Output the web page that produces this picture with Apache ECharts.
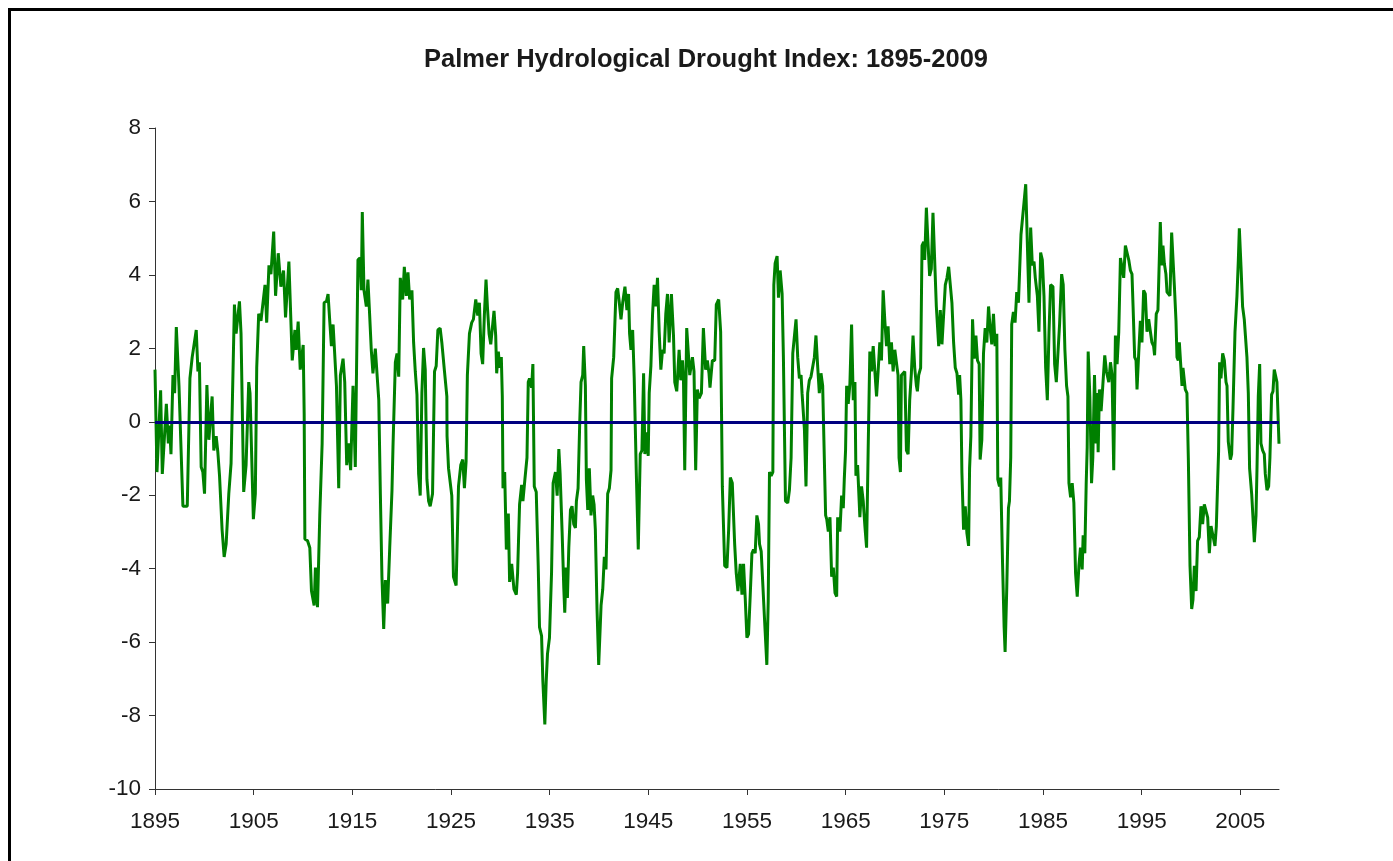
<!DOCTYPE html>
<html>
<head>
<meta charset="utf-8">
<script src="https://cdn.jsdelivr.net/npm/echarts@6/dist/echarts.min.js"></script>
<style>
  html, body { margin: 0; padding: 0; background: #ffffff; }
  #frame { position: absolute; left: 8px; top: 8px; width: 1500px; height: 1000px;
           border-left: 3px solid #000; border-top: 3px solid #000; box-sizing: border-box; }
  #chart { position: absolute; left: 0; top: 0; width: 1393px; height: 861px; }
</style>
</head>
<body>
<div id="frame"></div>
<div id="chart"></div>
<script>
// ---- Data (decimal year, PHDI value) ----
const years = [
  1895.0,1895.2,1895.57,1895.74,1896.15,1896.35,1896.48,1896.62,1896.82,1896.99,
  1897.16,1897.43,1897.6,1897.83,1898.0,1898.27,1898.54,1898.77,1899.18,1899.35,
  1899.5,1899.68,1899.85,1900.02,1900.26,1900.46,1900.79,1900.96,1901.2,1901.37,
  1901.54,1901.8,1902.01,1902.21,1902.48,1902.71,1903.05,1903.22,1903.56,1903.72,
  1903.99,1904.23,1904.5,1904.63,1904.97,1905.17,1905.31,1905.51,1905.74,
  1906.15,1906.32,1906.55,1906.75,1907.03,1907.22,1907.49,1907.76,1908.03,1908.23,
  1908.57,1908.91,1909.18,1909.31,1909.51,1909.72,1910.02,1910.12,1910.19,1910.46,
  1910.69,1910.86,1911.13,1911.26,1911.47,1911.7,1911.94,1912.14,1912.38,1912.54,
  1912.71,1912.88,1913.05,1913.39,1913.62,1913.79,1914.06,1914.23,1914.43,1914.63,
  1914.83,1915.07,1915.3,1915.57,1915.78,1915.91,1916.01,1916.18,1916.42,1916.58,
  1916.75,1916.92,1917.09,1917.33,
  1917.68,1917.84,1918.0,1918.18,1918.35,1918.58,1918.79,1919.02,1919.12,1919.26,
  1919.36,1919.53,1919.7,1919.86,1920.1,1920.27,1920.47,1920.64,1920.81,1921.04,
  1921.21,1921.38,1921.55,1921.72,1921.88,1922.05,1922.22,1922.39,1922.56,1922.73,
  1922.89,1923.13,1923.33,1923.5,1923.67,1923.9,1924.07,1924.34,1924.58,1924.6,
  1924.75,1925.08,1925.25,1925.52,1925.76,1925.99,1926.19,1926.36,1926.53,1926.66,
  1926.87,1927.1,1927.27,1927.51,1927.71,1927.88,1928.05,1928.21,1928.38,1928.55,
  1928.69,1928.86,1929.03,1929.19,1929.36,1929.53,1929.63,1929.8,1929.93,1930.1,
  1930.2,1930.27,1930.44,1930.61,1930.81,1930.94,1931.15,1931.38,1931.62,1931.75,
  1931.95,1932.16,1932.29,1932.49,1932.7,1932.83,1932.96,1933.17,1933.3,1933.44,
  1933.64,1933.84,1933.97,1934.18,1934.31,1934.51,1934.65,1934.78,1934.98,1935.19,
  1935.35,1935.59,1935.76,1935.93,1936.06,1936.26,1936.43,1936.53,1936.67,1936.8,
  1936.94,1937.11,1937.27,1937.44,1937.61,1937.71,1937.88,1938.05,1938.18,1938.35,
  1938.45,1938.62,1938.72,1938.86,1939.02,1939.19,1939.36,1939.5,1939.63,1939.8,
  1939.97,
  1940.21,1940.38,1940.54,1940.71,1940.88,1941.05,1941.22,1941.28,1941.49,1941.72,
  1941.89,1942.06,1942.23,1942.4,1942.63,1942.83,1943.0,1943.1,1943.24,1943.41,
  1943.57,1943.78,1943.98,1944.18,1944.35,1944.52,1944.65,1944.85,1944.99,1945.09,
  1945.26,1945.43,1945.59,1945.76,1945.93,1946.1,1946.27,1946.44,1946.6,1946.77,
  1946.94,1947.11,1947.34,1947.55,1947.68,1947.88,1948.12,1948.29,1948.46,1948.56,
  1948.69,1948.89,1949.03,1949.2,1949.47,1949.63,1949.8,1949.97,1950.14,1950.38,
  1950.58,1950.81,1950.98,1951.15,1951.25,
  1951.49,1951.73,1951.89,1952.13,1952.33,1952.5,1952.63,1952.74,1952.97,1953.14,
  1953.31,1953.51,1953.75,1953.91,1954.08,1954.32,1954.49,1954.65,1954.82,1954.99,
  1955.16,1955.33,1955.5,1955.66,1955.83,1956.0,1956.17,1956.27,1956.44,1956.61,
  1956.78,1957.01,1957.15,1957.28,1957.45,1957.62,1957.72,1957.85,1958.05,1958.19,
  1958.36,1958.56,1958.69,1958.9,1959.13,1959.3,1959.47,1959.64,1959.81,1959.97,
  1960.14,1960.31,1960.48,1960.58,1960.72,1960.82,1960.98,1961.15,1961.32,1961.49,
  1961.66,1961.83,1961.99,1962.16,1962.33,1962.5,1962.67,
  1962.84,1962.97,1963.08,1963.24,1963.41,1963.58,1963.75,1963.92,1964.09,1964.19,
  1964.42,1964.59,1964.76,1964.86,1964.99,1965.1,1965.26,1965.43,1965.6,1965.77,
  1965.94,1966.04,1966.21,1966.44,1966.61,1966.78,1966.95,1967.12,1967.28,1967.45,
  1967.62,1967.79,1967.96,1968.13,1968.29,1968.46,1968.63,1968.8,1968.97,1969.14,
  1969.3,1969.47,1969.64,1969.81,1969.98,1970.15,1970.31,1970.41,1970.55,1970.65,
  1970.82,1970.99,1971.16,1971.33,1971.49,1971.66,1971.83,1972.0,1972.17,1972.27,
  1972.4,1972.6,1972.74,1972.91,1973.01,1973.18,1973.34,1973.51,1973.68,1973.85,
  1974.02,1974.19,
  1974.43,1974.59,1974.76,1974.93,1975.1,1975.27,1975.44,1975.6,1975.77,1975.94,
  1976.11,1976.28,1976.45,1976.55,1976.68,1976.78,1976.95,1977.12,1977.29,1977.46,
  1977.56,1977.69,1977.86,1978.03,1978.2,1978.36,1978.53,1978.63,1978.8,1978.97,
  1979.14,1979.31,1979.48,1979.64,1979.81,1979.98,1980.15,1980.32,1980.42,1980.59,
  1980.72,1980.89,1981.06,1981.16,1981.33,1981.5,1981.6,1981.73,1981.83,1982.0,
  1982.17,1982.34,1982.51,1982.67,1982.77,1982.94,1983.08,1983.25,1983.41,1983.58,
  1983.75,1983.92,1984.09,1984.22,1984.43,1984.59,1984.76,1984.93,1985.1,1985.27,
  1985.44,
  1985.61,1985.77,1986.01,1986.18,1986.35,1986.52,1986.68,1986.89,1987.05,1987.22,
  1987.39,1987.53,1987.63,1987.8,1987.96,1988.13,1988.3,1988.47,1988.64,1988.8,
  1988.97,1989.07,1989.24,1989.38,1989.48,1989.58,1989.75,1989.92,1990.05,1990.22,
  1990.39,1990.49,1990.59,1990.72,1990.89,1991.06,1991.26,1991.43,1991.67,1991.84,
  1992.0,1992.17,1992.34,1992.51,1992.68,1992.85,1993.01,1993.18,1993.35,1993.52,
  1993.69,1993.86,1994.02,1994.13,1994.29,1994.43,1994.53,1994.7,1994.87,1995.03,
  1995.2,1995.37,1995.54,1995.71,1995.88,1996.04,1996.21,1996.31,1996.48,1996.65,
  1996.89,1997.03,1997.16,1997.3,1997.46,1997.57,1997.73,1997.87,1998.04,1998.17,
  1998.31,1998.48,1998.58,1998.71,1998.82,1998.98,1999.09,1999.19,1999.32,1999.42,
  1999.59,1999.73,1999.9,2000.07,2000.2,2000.34,2000.51,2000.67,2000.84,2001.01,
  2001.18,2001.35,2001.52,2001.69,2001.86,2002.03,2002.19,2002.43,2002.57,2002.7,
  2002.8,2002.9,2003.04,2003.21,2003.38,2003.55,2003.65,2003.78,2003.99,2004.12,
  2004.26,2004.46,2004.66,2004.8,2004.9,2005.07,2005.23,2005.4,2005.57,2005.67,
  2005.81,2005.94,2006.15,2006.42,2006.59,2006.69,2006.82,2006.96,2007.09,2007.26,
  2007.43,2007.53,2007.7,2007.87,2008.0,2008.17,2008.31,2008.44,2008.61,2008.71,
  2008.92
];
const pdhi = [
  1.42,-1.37,0.86,-1.42,0.49,-0.59,-0.1,-0.88,1.27,0.78,
  2.58,0.98,0.93,-2.3,-2.35,-2.3,1.18,1.76,2.5,1.37,
  1.62,-1.23,-1.37,-1.96,1.0,-0.49,0.69,-0.78,-0.39,-0.83,
  -1.47,-2.94,-3.68,-3.33,-1.96,-1.13,3.19,2.4,3.28,2.4,
  -1.91,-1.18,1.08,0.78,-2.65,-1.96,1.47,2.94,2.75,
  3.73,2.7,4.26,4.02,5.18,3.43,4.59,3.68,4.12,2.84,
  4.36,1.67,2.5,1.96,2.73,1.42,2.09,0.2,-3.19,-3.24,
  -3.43,-4.61,-5.0,-3.97,-5.05,-2.55,-0.59,3.24,3.28,3.48,
  2.75,2.06,2.65,0.98,-1.81,1.27,1.72,1.08,-1.18,-0.59,
  -1.32,0.98,-1.23,4.41,4.46,3.58,5.71,3.58,3.14,3.87,
  2.94,1.96,1.32,1.99,
  0.59,-1.96,-4.22,-5.64,-4.31,-4.95,-3.43,-1.86,-0.69,-0.64,
  1.62,1.86,1.23,3.92,3.33,4.22,3.43,4.07,3.33,3.58,
  2.16,1.37,0.74,-1.42,-2.01,0.78,2.01,1.42,-1.57,-2.16,
  -2.3,-1.96,1.37,1.52,2.5,2.55,2.16,1.37,0.69,-0.39,
  -1.27,-2.01,-4.22,-4.46,-1.76,-1.18,-1.03,-1.81,-1.08,1.27,
  2.4,2.7,2.79,3.33,2.89,3.24,1.86,1.57,2.89,3.87,
  3.14,2.4,2.11,2.11,3.02,2.35,1.32,1.91,1.47,1.76,
  0.69,-1.81,-1.37,-3.48,-2.5,-4.36,-3.87,-4.56,-4.71,-4.12,
  -2.25,-1.72,-2.16,-1.57,-0.98,1.08,1.18,0.93,1.57,-1.76,
  -1.91,-3.92,-5.59,-5.83,-7.06,-8.24,-7.06,-6.32,-5.88,-4.12,
  -1.67,-1.37,-2.01,-0.74,-1.42,-2.99,-4.51,-5.2,-3.97,-4.8,
  -3.43,-2.4,-2.3,-2.79,-2.89,-2.16,-1.81,0.0,1.08,1.27,
  2.06,0.98,-1.57,-2.4,-1.27,-2.55,-2.01,-2.25,-2.94,-5.1,
  -6.62,
  -5.0,-4.56,-3.68,-4.02,-1.96,-1.81,-1.32,1.18,1.76,3.53,
  3.63,3.24,2.79,3.24,3.68,3.04,3.48,2.4,1.96,2.5,
  1.18,-1.37,-3.48,-0.88,-0.78,1.32,-0.88,-0.29,-0.93,0.78,
  1.52,2.94,3.73,3.14,3.92,2.45,1.42,1.96,1.86,2.94,
  3.48,2.16,3.48,2.35,1.08,0.83,1.96,1.13,1.67,1.18,
  -1.32,2.55,2.6,1.27,1.76,1.37,-1.32,0.88,0.64,0.78,
  2.55,1.42,1.67,1.32,0.93,
  1.67,1.67,3.19,3.33,2.45,-1.76,-2.94,-3.92,-3.97,-2.94,
  -1.52,-1.67,-3.33,-4.12,-4.61,-3.87,-4.71,-3.87,-4.8,-5.88,
  -5.78,-4.71,-3.58,-3.48,-3.58,-2.55,-2.79,-3.33,-3.53,-4.46,
  -5.39,-6.62,-4.9,-1.37,-1.47,-1.37,3.73,4.31,4.51,3.38,
  4.12,3.48,1.76,-2.16,-2.21,-1.86,-0.98,1.86,1.91,2.79,
  1.76,1.18,1.27,0.78,0.78,-0.2,-1.76,0.78,1.13,1.23,
  1.23,1.76,2.35,1.52,0.78,1.32,0.98,
  0.93,-2.55,-2.65,-2.99,-2.6,-4.22,-3.97,-4.66,-4.76,-2.6,
  -2.99,-2.01,-2.35,-1.57,-0.78,0.98,0.49,1.03,2.65,0.59,
  1.08,-1.47,-1.18,-2.6,-1.76,-2.16,-2.84,-3.43,-0.78,1.91,
  1.37,2.06,1.37,0.69,1.37,2.16,1.67,3.58,2.75,2.06,
  2.6,1.57,2.16,1.37,1.96,1.91,1.27,-0.98,-1.37,1.27,
  1.32,1.37,-0.78,-0.88,0.59,1.32,2.35,1.47,0.98,0.83,
  1.27,1.47,4.8,4.9,4.41,5.83,4.9,3.97,4.16,5.69,
  4.41,3.14,
  2.06,3.04,2.11,2.16,3.73,3.92,4.22,4.24,3.24,2.16,
  1.47,1.32,0.74,1.27,0.59,-1.37,-2.94,-2.3,-3.04,-3.38,
  -1.27,-0.39,2.79,1.72,2.35,1.67,1.57,-1.03,-0.49,1.86,
  2.55,2.16,3.14,2.55,2.11,2.94,2.06,2.4,-1.57,-1.76,
  -1.52,-3.73,-5.59,-6.27,-4.51,-2.35,-2.16,-0.98,2.65,2.99,
  2.7,3.53,3.24,3.24,5.1,5.15,5.98,6.47,4.9,3.24,
  5.29,4.26,4.36,3.92,3.43,2.45,4.61,4.41,3.43,1.47,
  0.59,
  2.45,3.73,3.68,1.57,1.08,1.03,2.65,4.02,3.73,1.96,
  0.98,0.69,-1.67,-2.06,-1.67,-2.21,-4.12,-4.76,-3.92,-3.43,
  -4.02,-3.09,-3.58,-1.67,-0.69,1.91,0.69,-1.67,-0.98,1.27,
  -0.59,0.78,-0.83,0.88,0.29,0.98,1.81,1.37,1.08,1.62,
  1.27,-1.32,2.35,1.57,2.45,4.46,4.41,3.92,4.8,4.85,
  4.41,4.12,4.02,3.14,1.76,1.67,0.88,1.86,2.75,2.16,
  3.58,3.48,2.45,2.79,2.84,2.16,2.06,1.81,2.94,3.04,
  5.44,4.26,4.8,4.31,4.02,3.53,3.48,3.43,5.15,5.1,
  3.73,2.75,1.76,1.67,2.16,2.16,0.98,1.47,1.47,0.88,
  0.78,-0.98,-3.92,-5.1,-4.85,-3.92,-4.61,-3.24,-3.14,-2.3,
  -2.79,-2.25,-2.21,-2.6,-3.58,-2.84,-2.84,-3.38,-2.84,-1.67,
  -0.78,1.62,1.18,1.86,1.67,1.08,0.98,-0.54,-1.03,-0.88,
  0.39,2.45,3.43,4.41,5.27,4.22,3.14,2.79,2.75,1.76,
  0.78,-1.27,-1.96,-3.28,-2.55,-1.27,0.69,1.57,-0.59,-0.78,
  -0.88,-1.42,-1.86,-1.76,-0.98,0.74,0.83,1.42,1.47,1.08,
  -0.6
];
const xTickYears = [1895, 1905, 1915, 1925, 1935, 1945, 1955, 1965, 1975, 1985, 1995, 2005];
const yMin = -10, yMax = 8, yStep = 2;
const titleText = 'Palmer Hydrological Drought Index: 1895-2009';

const seriesData = years.map((y, i) => [y, pdhi[i]]);
const font = '"Liberation Sans", Arial, sans-serif';

const chart = echarts.init(document.getElementById('chart'), null, { renderer: 'canvas' });
chart.setOption({
  animation: false,
  backgroundColor: 'transparent',
  title: {
    text: titleText,
    left: 419,
    top: 42,
    textStyle: { fontFamily: font, fontSize: 25.5, fontWeight: 'bold', color: '#1a1a1a' }
  },
  grid: { left: 155, top: 128, width: 1124, height: 661, containLabel: false },
  xAxis: {
    type: 'value',
    min: 1895,
    max: years[years.length - 1],
    splitLine: { show: false },
    axisLine: { show: true, onZero: false, lineStyle: { color: '#333', width: 1 } },
    axisTick: { show: true, length: 6, inside: false, customValues: xTickYears, lineStyle: { color: '#333' } },
    axisLabel: {
      customValues: xTickYears,
      formatter: v => String(Math.round(v)),
      color: '#1a1a1a', fontFamily: font, fontSize: 22.5, margin: 21
    }
  },
  yAxis: {
    type: 'value',
    min: yMin, max: yMax, interval: yStep,
    splitLine: { show: false },
    axisLine: { show: true, lineStyle: { color: '#333', width: 1 } },
    axisTick: { show: true, length: 6, inside: false, lineStyle: { color: '#333' } },
    axisLabel: { color: '#1a1a1a', fontFamily: font, fontSize: 22.5, margin: 14 }
  },
  series: [{
    type: 'line',
    data: seriesData,
    showSymbol: false,
    symbol: 'none',
    lineStyle: { color: '#008000', width: 3 },
    markLine: {
      silent: true,
      symbol: ['none', 'none'],
      label: { show: false },
      lineStyle: { color: '#000080', width: 3, type: 'solid' },
      data: [{ yAxis: 0 }]
    }
  }]
});
</script>
</body>
</html>
